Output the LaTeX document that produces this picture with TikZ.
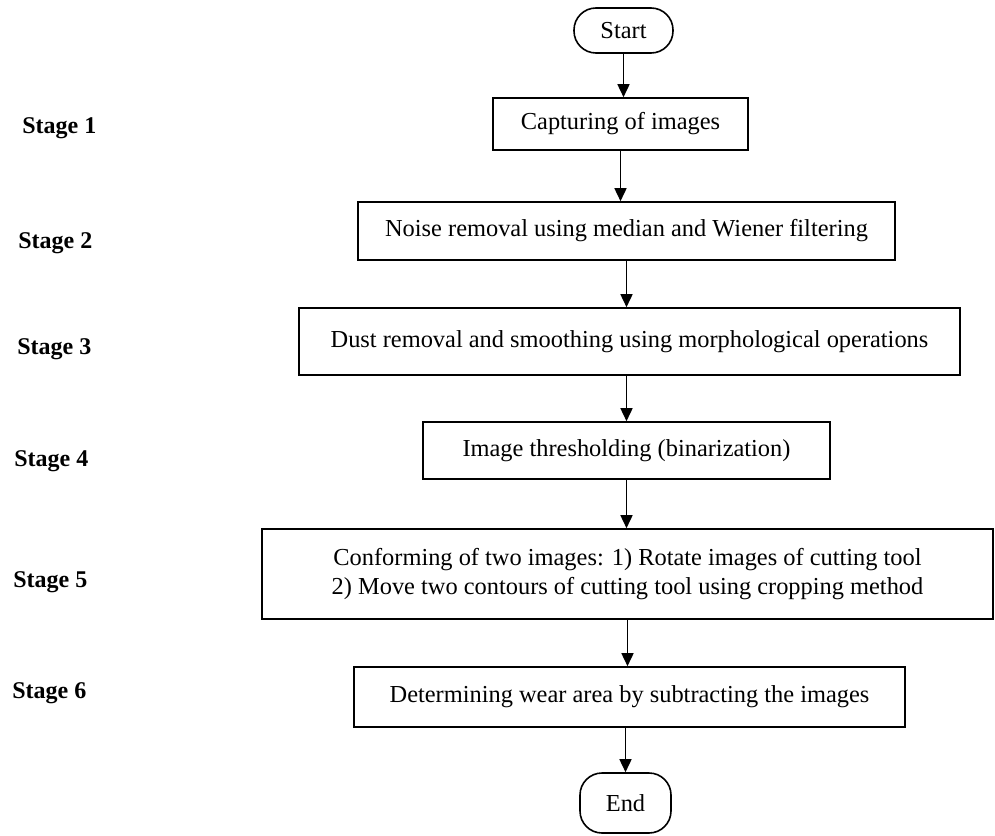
\documentclass[tikz,border=0pt]{standalone}
\usepackage{fontspec}
\setmainfont{Liberation Serif}
\usetikzlibrary{arrows.meta,positioning}

\begin{document}
\begin{tikzpicture}[x=0.5pt,y=-0.5pt,
  font=\fontsize{12.2}{14.5}\selectfont,
  process/.style={draw,line width=0.8pt,inner sep=0pt,align=center},
  terminal/.style={draw,line width=0.8pt,inner sep=0pt,rounded corners=11pt},
  stagelabel/.style={anchor=west,inner sep=0pt,font=\fontsize{12}{14}\selectfont\bfseries},
  arr/.style={line width=0.8pt,-{Triangle[length=6.5pt,width=6pt]}}]
\useasboundingbox (0,0) rectangle (995,835);

% Flow chart boxes
\node[terminal,minimum width=49.5pt,minimum height=22.5pt] (start) at (623.5,30.5) {Start};
\node[process,minimum width=127.5pt,minimum height=26pt] (capture) at (620.5,124) {Capturing of images};
\node[process,minimum width=268.5pt,minimum height=29pt] (noise) at (626.5,231) {Noise removal using median and Wiener filtering};
\node[process,minimum width=330.5pt,minimum height=33.5pt] (dust) at (629.5,341.5) {Dust removal and smoothing using morphological operations};
\node[process,minimum width=203.5pt,minimum height=28.5pt] (thresh) at (626.5,450.5) {Image thresholding (binarization)};
\node[process,minimum width=365.5pt,minimum height=45pt] (conform) at (627.5,574) {Conforming of two images: 1) Rotate images of cutting tool\\2) Move two contours of cutting tool using cropping method};
\node[process,minimum width=275.5pt,minimum height=30pt] (wear) at (629.5,697) {Determining wear area by subtracting the images};
\node[terminal,minimum width=45.5pt,minimum height=30pt] (end) at (625.5,803) {End};

% Arrows
\draw[arr] (start.south) -- (start.south |- capture.north);
\draw[arr] (capture.south) -- (capture.south |- noise.north);
\draw[arr] (noise.south) -- (noise.south |- dust.north);
\draw[arr] (thresh.north |- dust.south) -- (thresh.north);
\draw[arr] (thresh.south) -- (thresh.south |- conform.north);
\draw[arr] (conform.south) -- (conform.south |- wear.north);
\draw[arr] (end.north |- wear.south) -- (end.north);

% Stage labels
\node[stagelabel] (s1) at (22,128) {Stage 1};
\node[stagelabel] (s2) at (18,243) {Stage 2};
\node[stagelabel] (s3) at (17,349) {Stage 3};
\node[stagelabel] (s4) at (14,461) {Stage 4};
\node[stagelabel] (s5) at (13,582) {Stage 5};
\node[stagelabel] (s6) at (12,693) {Stage 6};
\end{tikzpicture}
\end{document}
